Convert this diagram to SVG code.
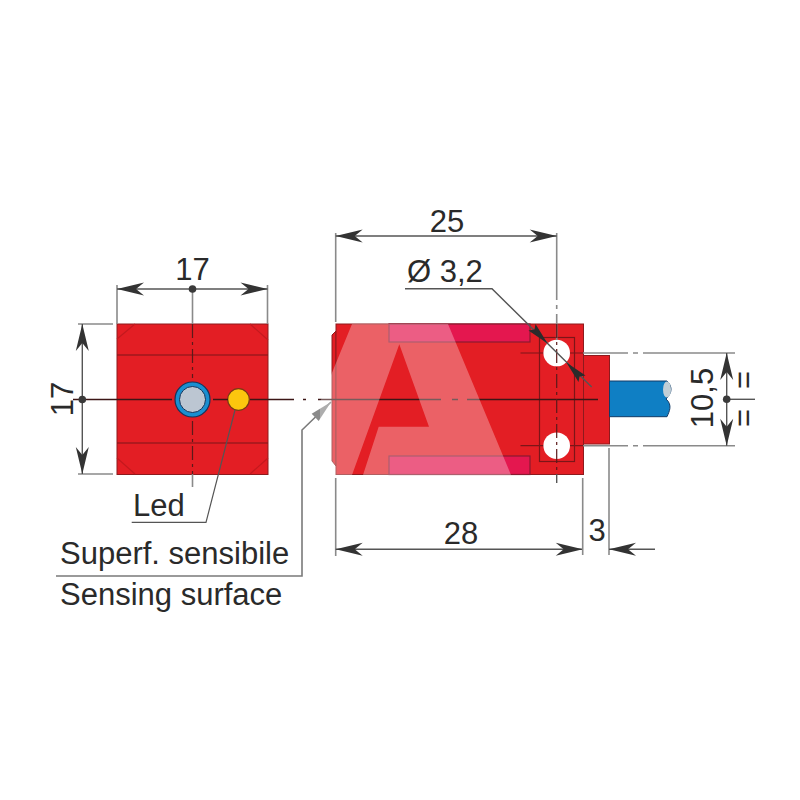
<svg xmlns="http://www.w3.org/2000/svg" width="800" height="800" viewBox="0 0 800 800">
<style>
text{font-family:"Liberation Sans",Arial,sans-serif;font-size:31px;fill:#2a2a2a}
.m{text-anchor:middle}
.red{fill:#e31e24;stroke:#8e1a1d;stroke-width:1}
.in{fill:none;stroke:#7c1518;stroke-width:1.2}
.soft{fill:none;stroke:#c4191e;stroke-width:1.2}
.pink{fill:#e4174f;stroke:#8a1a30;stroke-width:1.2}
.c{fill:none;stroke:#5c1a1a;stroke-width:1.2;stroke-dasharray:14 4 3 4}
.d{fill:none;stroke:#555;stroke-width:1.4}
.e{fill:none;stroke:#8a8a8a;stroke-width:1.6}
.a{marker-start:url(#ar);marker-end:url(#ar)}
.k{fill:#3a3a3a}
</style>
<defs>
<marker id="ar" markerUnits="userSpaceOnUse" markerWidth="30" markerHeight="16" refX="0" refY="0" orient="auto-start-reverse" overflow="visible">
<path d="M0,0 L-27,-6.500 L-19,0 L-27,6.500 Z" fill="#333"/>
</marker>
<marker id="ag" markerUnits="userSpaceOnUse" markerWidth="30" markerHeight="16" refX="0" refY="0" orient="auto" overflow="visible">
<path d="M0,0 L-22,-5 L-22,5 Z" fill="#8a8a8a"/>
</marker>
</defs>

<g id="front-view">
<rect class="red" x="117" y="324" width="151" height="150.500"/>
<path class="in" d="M117 355H268M117 443H268"/>
<path class="soft" d="M117 339L135 324M250 324L268 340M117 458L135 474M250 474L268 458"/>
<path class="c" d="M192.500 324V378M192.500 421V474"/>
</g>
<g id="front-lens">
<circle cx="192.500" cy="399.500" r="17.500" fill="#1a8fd0" stroke="#14355c" stroke-width="1.200"/>
<circle cx="192.500" cy="399.500" r="13" fill="#bcc6d2" stroke="#14355c" stroke-width="1"/>
</g>
<g id="front-led">
<circle cx="238.500" cy="399.500" r="10.800" fill="#fcc60e" stroke="#7a3a14" stroke-width="1.200"/>
</g>

<g id="side-view">
<path class="red" d="M336 331L332 335V461L336 466Z"/>
<rect class="red" x="583" y="355.500" width="26.500" height="88.500"/>
<rect class="red" x="336" y="324" width="247.500" height="150.500"/>
<rect class="pink" x="389" y="324" width="141" height="18"/>
<rect class="pink" x="389" y="456" width="141" height="18.500"/>
<rect class="in" x="539.500" y="337.500" width="35" height="124"/>
<path class="in" d="M520.500 353H583M520.500 445.700H583"/>
<circle cx="556.700" cy="353" r="13.300" fill="#fff"/>
<circle cx="556.700" cy="445.700" r="13.300" fill="#fff"/>
</g>
<g id="cable">
<path d="M609.500 381H667C672 386 673 392 666 399C673 405 669 412 667 416.700H609.500Z" fill="#0f7fc4" stroke="#123a66" stroke-width="1"/>
<ellipse cx="667" cy="389.500" rx="4" ry="8" fill="#c2cfd6"/>
</g>

<g id="connectors">
<path d="M73 399.500H172M213 399.500H228M250 399.500H294M303 399.500H306M318 399.500H441M452 399.500H458M467 399.500H598" fill="none" stroke="#3c1616" stroke-width="1.300"/>
<path class="e" d="M192.500 289V324M192.500 474V487"/>
<path class="e" d="M117 285V324M267.500 285V324"/>
<path class="d a" d="M117 289H267.500"/>
<path class="e" d="M78 324H113M78 474H113"/>
<path class="d a" d="M82.300 324V474"/>
<path class="e" d="M335.700 233V322M335.700 478V556"/>
<path class="e" d="M556.700 233V300M556.700 305V309M556.700 314V340"/>
<path class="d a" d="M335.700 236H556.700"/>
<path class="c" d="M556.700 324V474"/>
<path class="d" d="M556.700 474V483"/>
<path class="d a" d="M335.700 549.300H582.700"/>
<path class="e" d="M582.700 478V555M609 448V555"/>
<path class="d" d="M655 549.300H609" marker-end="url(#ar)"/>
<path class="e" d="M583 353H628M633 353H638M643 353H735M583 445.700H628M633 445.700H638M643 445.700H735"/>
<path class="d a" d="M726.700 353V445.700"/>
<path class="d" d="M726.700 399.300H755"/>
<path class="d" d="M405 288.700H492L591.700 387"/>
<path d="M547.600 343.600L528.500 330.500L534.500 329.500L535.500 324Z M566.400 362.400L585.500 375.500L579.500 376.500L578.500 382Z" fill="#2b2b2b"/>
<path d="M131.700 522.300H206L235 410" fill="none" stroke="#555" stroke-width="1.200"/>
<path d="M56 576H302V430L331 402" fill="none" stroke="#7a7a7a" stroke-width="1.600" marker-end="url(#ag)"/>
<g class="k"><circle cx="192.500" cy="289" r="3.800"/><circle cx="82.300" cy="399.500" r="3.800"/><circle cx="726.700" cy="399.300" r="3.800"/></g>
</g>

<g id="watermark">
<path d="M352 324H448L511 475H363L378.700 426.700H429L399.300 344.300L352 475H320V402Z" fill="#fff" fill-opacity=".3"/>
</g>

<g id="labels">
<text class="m" x="192.500" y="280">17</text>
<text class="m" transform="translate(73 399) rotate(-90)">17</text>
<text class="m" x="447" y="232">25</text>
<text x="407" y="282">Ø 3,2</text>
<text class="m" x="461" y="544">28</text>
<text class="m" x="597" y="541">3</text>
<text class="m" transform="translate(713 398) rotate(-90)">10,5</text>
<text class="m" transform="translate(754 380) rotate(-90)">=</text>
<text class="m" transform="translate(754 418) rotate(-90)">=</text>
<text x="133" y="516">Led</text>
<text x="60" y="564">Superf. sensibile</text>
<text x="60" y="605">Sensing surface</text>
</g>
</svg>
